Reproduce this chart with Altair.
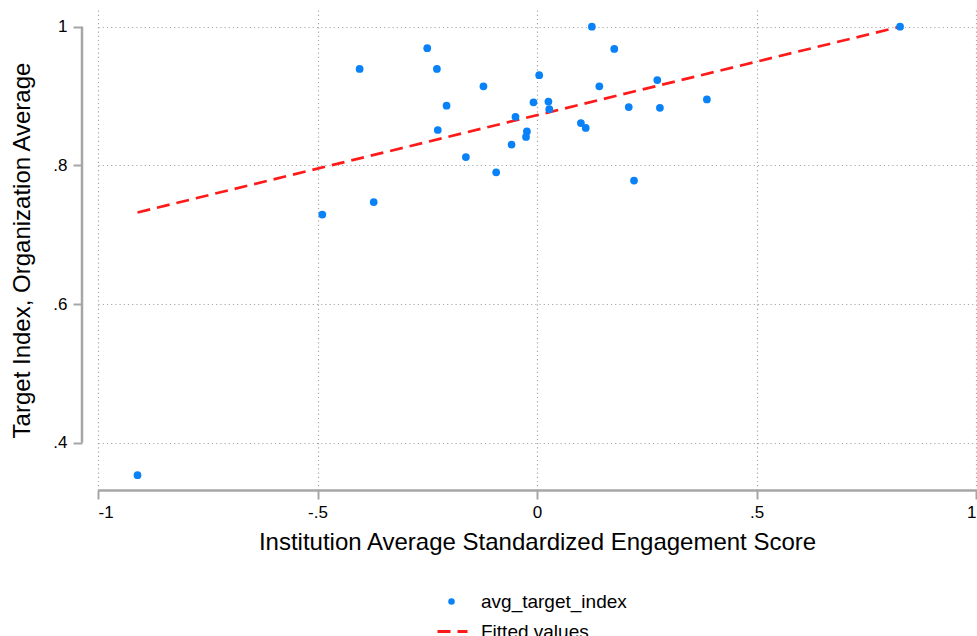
import altair as alt
import pandas as pd

# ---- data ----
engagement = [-0.910, -0.489, -0.372, -0.404, -0.250, -0.228, -0.226, -0.206, -0.162, -0.122,
              -0.093, -0.058, -0.049, -0.023, -0.025, -0.008, 0.005, 0.026, 0.028, 0.100,
              0.111, 0.125, 0.142, 0.176, 0.209, 0.221, 0.274, 0.280, 0.387, 0.827]
target = [0.353, 0.729, 0.747, 0.939, 0.969, 0.939, 0.851, 0.886, 0.812, 0.914,
          0.790, 0.830, 0.870, 0.849, 0.841, 0.891, 0.930, 0.892, 0.881, 0.861,
          0.854, 1.000, 0.914, 0.968, 0.884, 0.778, 0.923, 0.883, 0.895, 1.000]
fit_x = [-0.910, 0.827]
fit_y = [0.732, 1.000]

xtick_vals = [-1, -0.5, 0, 0.5, 1]
xtick_labels = ["-1", "-.5", "0", ".5", "1"]
ytick_vals = [0.4, 0.6, 0.8, 1.0]
ytick_labels = [".4", ".6", ".8", "1"]

series_names = ["avg_target_index", "Fitted values"]

BLUE = "#0a82f7"
RED = "#ff1a1a"
GREY = "#a6a6a6"
GRID = "#a8a8a8"
FONT = "Liberation Sans"


def label_expr(vals, labels):
    expr = "''"
    for v, l in reversed(list(zip(vals, labels))):
        expr = f"abs(datum.value - ({v})) < 1e-6 ? '{l}' : ({expr})"
    return expr


pts = pd.DataFrame({"x": engagement, "y": target, "series": series_names[0]})
fit = pd.DataFrame({"x": fit_x, "y": fit_y, "fit_series": series_names[1]})

xscale = alt.Scale(domain=[-1, 1], nice=False, zero=False)
yscale = alt.Scale(domain=[0.3317, 1.0241], nice=False, zero=False)

xaxis = alt.Axis(
    values=xtick_vals, labelExpr=label_expr(xtick_vals, xtick_labels),
    title="Institution Average Standardized Engagement Score",
    grid=True, gridColor=GRID, gridDash=[1.2, 3], gridWidth=1.2,
    domain=True, domainColor=GREY, domainWidth=2.5,
    ticks=True, tickColor=GREY, tickWidth=2, tickSize=9,
    labelFont=FONT, labelFontSize=17, labelColor="#000000", labelPadding=5,
    titleFont=FONT, titleFontSize=24, titleFontWeight="normal", titleColor="#000000",
    titlePadding=10,
)
yaxis = alt.Axis(
    values=ytick_vals, labelExpr=label_expr(ytick_vals, ytick_labels),
    title="Target Index, Organization Average",
    grid=True, gridColor=GRID, gridDash=[1.2, 3], gridWidth=1.2,
    domain=False, offset=16,
    ticks=True, tickColor=GREY, tickWidth=2, tickSize=9,
    labelFont=FONT, labelFontSize=17, labelColor="#000000", labelPadding=6,
    titleFont=FONT, titleFontSize=24, titleFontWeight="normal", titleColor="#000000",
    titlePadding=18,
)

points = alt.Chart(pts).mark_point(filled=True, size=60, opacity=1).encode(
    x=alt.X("x:Q", scale=xscale, axis=xaxis),
    y=alt.Y("y:Q", scale=yscale, axis=yaxis),
    color=alt.Color(
        "series:N",
        scale=alt.Scale(domain=[series_names[0]], range=[BLUE]),
        legend=alt.Legend(
            title=None, orient="none", legendX=344, legendY=582, padding=0,
            symbolType="circle", symbolSize=42, symbolStrokeWidth=0,
            labelFont=FONT, labelFontSize=19, labelColor="#000000", labelOffset=20,
        ),
    ),
)

line = alt.Chart(fit).mark_line(strokeWidth=2.7, strokeDash=[13, 7]).encode(
    x=alt.X("x:Q", scale=xscale),
    y=alt.Y("y:Q", scale=yscale),
    stroke=alt.Stroke(
        "fit_series:N",
        scale=alt.Scale(domain=[series_names[1]], range=[RED]),
        legend=alt.Legend(
            title=None, orient="none", legendX=338, legendY=605, padding=0,
            symbolType="stroke", symbolSize=900, symbolStrokeWidth=3, symbolDash=[13, 7],
            labelFont=FONT, labelFontSize=19, labelColor="#000000", labelOffset=12,
        ),
    ),
)

yaxis_line = alt.Chart(alt.Data(values=[{"k": 0}])).mark_rule(
    color=GREY, strokeWidth=2.5
).encode(
    x=alt.value(-16),
    y=alt.datum(ytick_vals[0], scale=yscale),
    y2=alt.datum(ytick_vals[-1]),
)

chart = alt.layer(yaxis_line, line, points).properties(
    width=878, height=480,
    autosize=alt.AutoSizeParams(type="none"),
    padding={"left": 98, "top": 10, "right": 1, "bottom": 146},
    background="white",
).configure_view(stroke=None)

chart.save("out.html", embed_options={"renderer": "svg", "actions": False})
